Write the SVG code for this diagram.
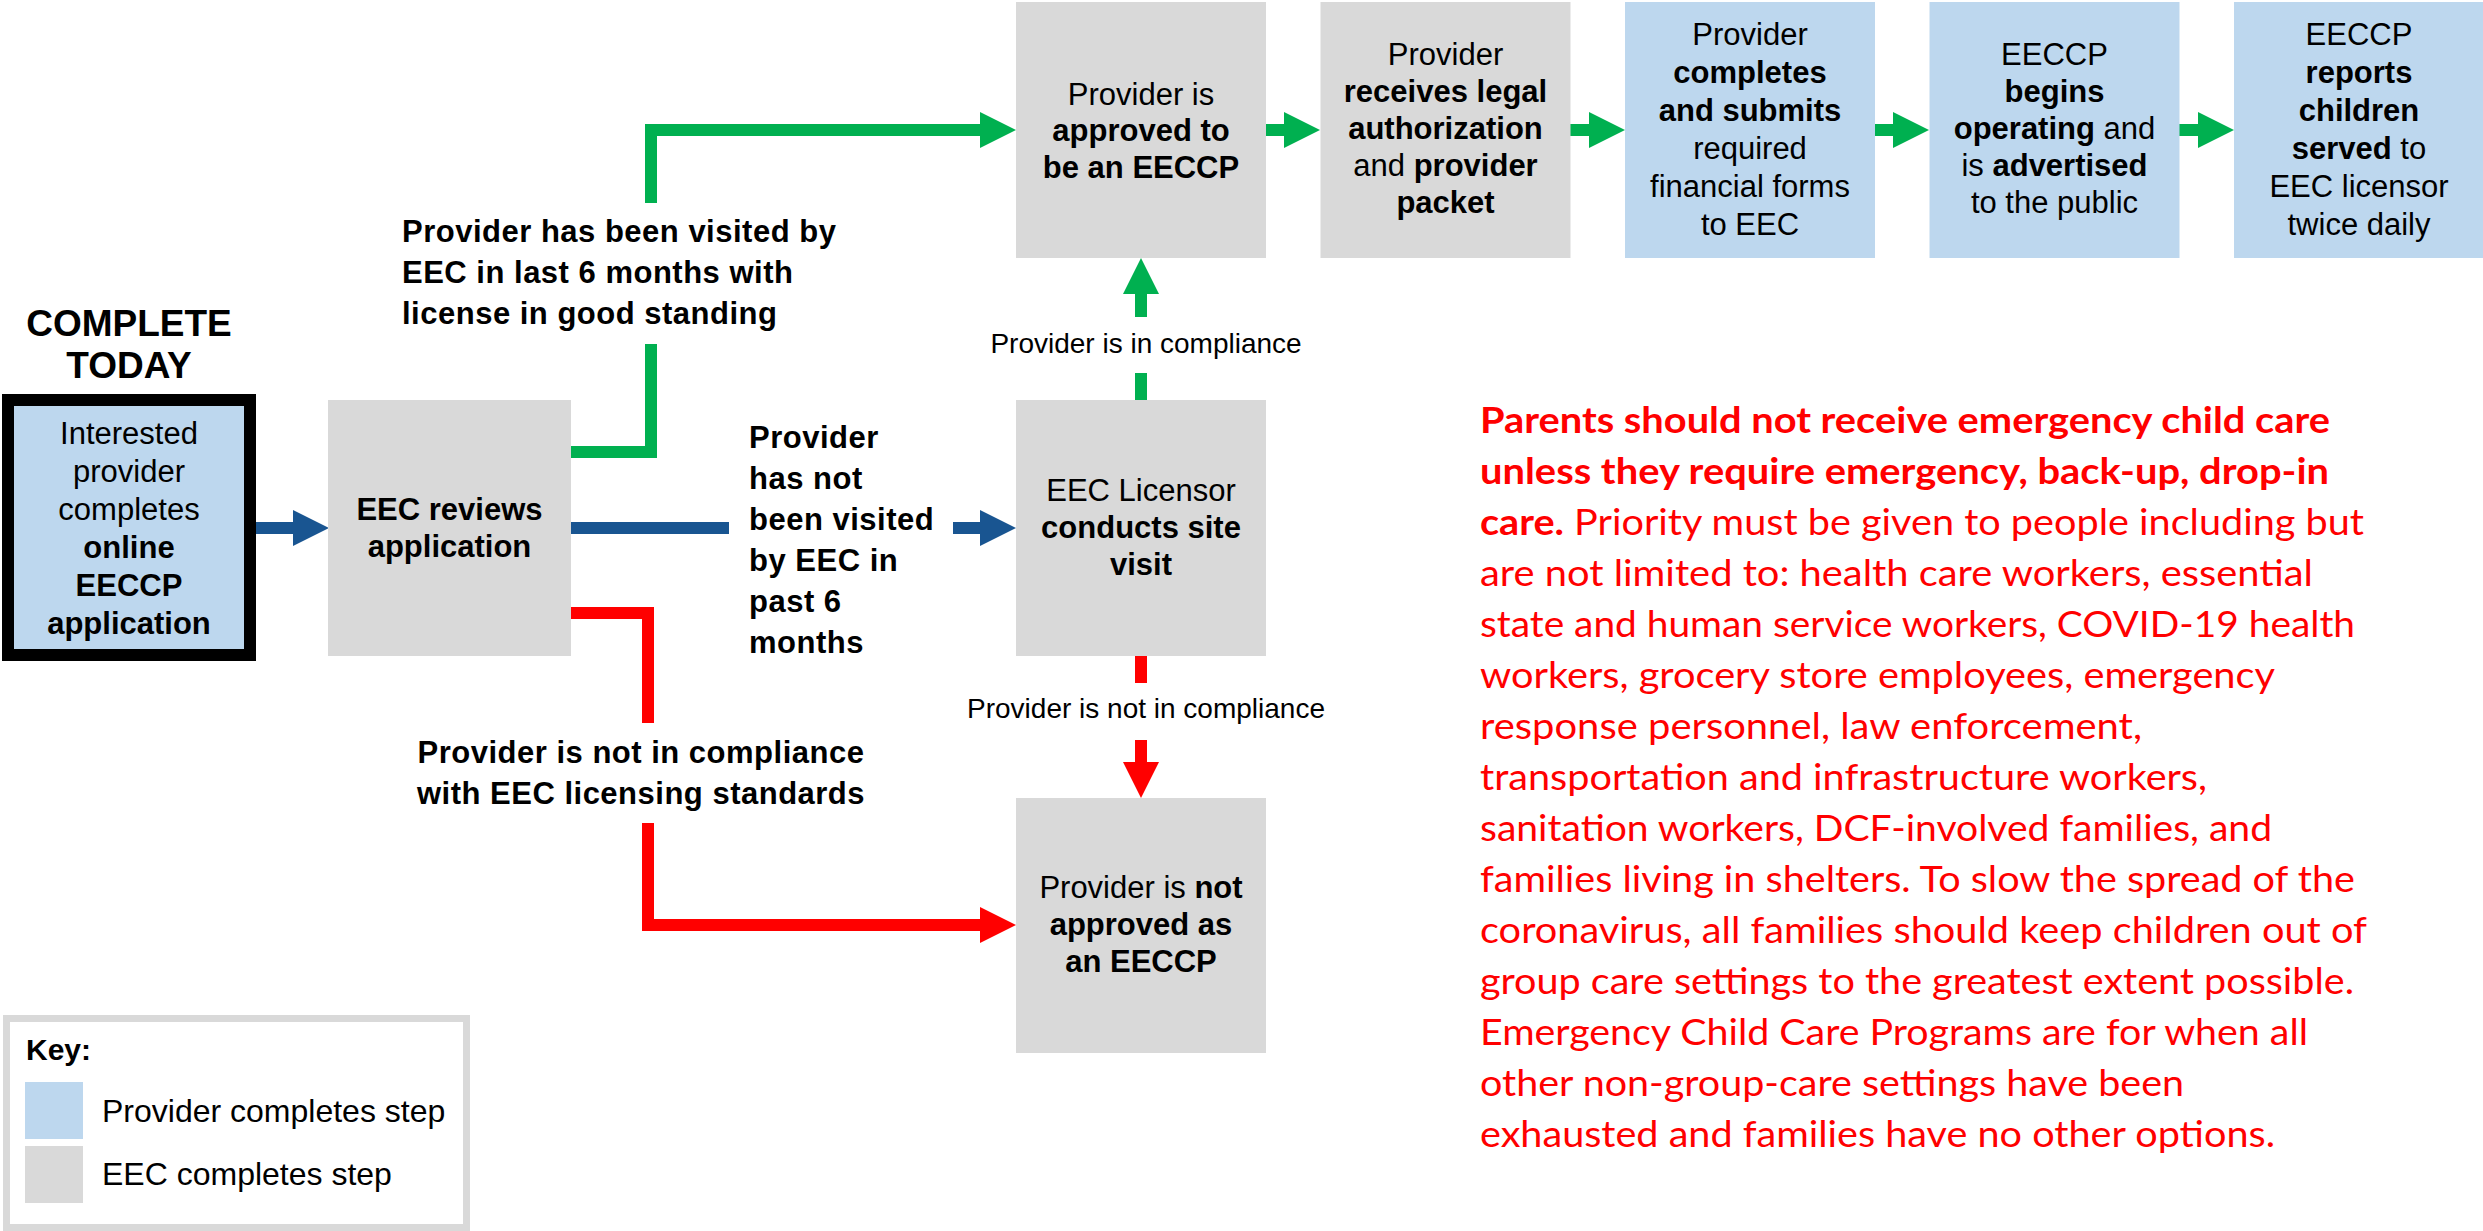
<svg xmlns="http://www.w3.org/2000/svg" width="2483" height="1231" viewBox="0 0 2483 1231">
<style>
.g{fill:#d9d9d9}
.bl{fill:#bdd7ee}
.t{font-family:"Liberation Sans",Arial,Helvetica,sans-serif;font-size:31px;fill:#000;text-anchor:middle}
.b{font-weight:bold}
.lbl{font-family:"Liberation Sans",Arial,Helvetica,sans-serif;font-size:31px;font-weight:bold;letter-spacing:0.5px;fill:#000}
.sm{font-family:"Liberation Sans",Arial,Helvetica,sans-serif;font-size:28px;fill:#000;text-anchor:middle}
.red{font-family:Lato,"Open Sans",sans-serif;font-size:37px;fill:#ff0000}
.cg{fill:none;stroke:#00b050;stroke-width:12}
.cb{fill:none;stroke:#195591;stroke-width:12}
.cr{fill:none;stroke:#ff0000;stroke-width:12}
</style>
<defs>
<marker id="ag" markerWidth="3" markerHeight="3" refX="0" refY="1.5" orient="auto" markerUnits="strokeWidth"><path d="M0,0 L3,1.5 L0,3 z" fill="#00b050"/></marker>
<marker id="ab" markerWidth="3" markerHeight="3" refX="0" refY="1.5" orient="auto" markerUnits="strokeWidth"><path d="M0,0 L3,1.5 L0,3 z" fill="#195591"/></marker>
<marker id="ar" markerWidth="3" markerHeight="3" refX="0" refY="1.5" orient="auto" markerUnits="strokeWidth"><path d="M0,0 L3,1.5 L0,3 z" fill="#ff0000"/></marker>
</defs>
<rect width="2483" height="1231" fill="#fff"/>

<g id="title">
<text class="t b" x="129" y="336" style="font-size:37px">COMPLETE</text>
<text class="t b" x="129" y="378" style="font-size:37px">TODAY</text>
</g>

<g id="connectors">
<path class="cb" d="M256,528 H293" marker-end="url(#ab)"/>
<path class="cg" d="M571,452 H651 V344"/>
<path class="cg" d="M651,203 V130 H980" marker-end="url(#ag)"/>
<path class="cb" d="M571,528 H729"/>
<path class="cb" d="M953,528 H980" marker-end="url(#ab)"/>
<path class="cr" d="M568,613 H648 V723"/>
<path class="cr" d="M648,823 V925 H980" marker-end="url(#ar)"/>
<path class="cg" d="M1141,400 V373"/>
<path class="cg" d="M1141,317 V294" marker-end="url(#ag)"/>
<path class="cr" d="M1141,656 V683"/>
<path class="cr" d="M1141,740 V762" marker-end="url(#ar)"/>
<path class="cg" d="M1266,130 H1284" marker-end="url(#ag)"/>
<path class="cg" d="M1570,130 H1589" marker-end="url(#ag)"/>
<path class="cg" d="M1875,130 H1893" marker-end="url(#ag)"/>
<path class="cg" d="M2179,130 H2198" marker-end="url(#ag)"/>
</g>

<g id="edge-labels">
<text class="lbl" x="402" y="242">Provider has been visited by</text>
<text class="lbl" x="402" y="283">EEC in last 6 months with</text>
<text class="lbl" x="402" y="324">license in good standing</text>
<text class="lbl" x="749" y="448">Provider</text>
<text class="lbl" x="749" y="489">has not</text>
<text class="lbl" x="749" y="530">been visited</text>
<text class="lbl" x="749" y="571">by EEC in</text>
<text class="lbl" x="749" y="612">past 6</text>
<text class="lbl" x="749" y="653">months</text>
<text class="lbl" x="641" y="763" text-anchor="middle">Provider is not in compliance</text>
<text class="lbl" x="641" y="804" text-anchor="middle">with EEC licensing standards</text>
<text class="sm" x="1146" y="353">Provider is in compliance</text>
<text class="sm" x="1146" y="718">Provider is not in compliance</text>
</g>

<g id="n-apply">
<rect x="8" y="400" width="242" height="255" class="bl" stroke="#000" stroke-width="12"/>
<text class="t" x="129" y="444">Interested</text>
<text class="t" x="129" y="482">provider</text>
<text class="t" x="129" y="520">completes</text>
<text class="t b" x="129" y="558">online</text>
<text class="t b" x="129" y="596">EECCP</text>
<text class="t b" x="129" y="634">application</text>
</g>

<g id="n-review">
<rect x="328" y="400" width="243" height="256" class="g"/>
<text class="t b" x="449.5" y="520">EEC reviews</text>
<text class="t b" x="449.5" y="557">application</text>
</g>

<g id="n-approved">
<rect x="1016" y="2" width="250" height="256" class="g"/>
<text class="t" x="1141" y="105">Provider is</text>
<text class="t b" x="1141" y="141">approved to</text>
<text class="t b" x="1141" y="178">be an EECCP</text>
</g>

<g id="n-legal">
<rect x="1320.5" y="2" width="250" height="256" class="g"/>
<text class="t" x="1445.5" y="65">Provider</text>
<text class="t b" x="1445.5" y="102">receives legal</text>
<text class="t b" x="1445.5" y="139">authorization</text>
<text class="t" x="1445.5" y="176">and <tspan class="b">provider</tspan></text>
<text class="t b" x="1445.5" y="213">packet</text>
</g>

<g id="n-forms">
<rect x="1625" y="2" width="250" height="256" class="bl"/>
<text class="t" x="1750" y="45">Provider</text>
<text class="t b" x="1750" y="83">completes</text>
<text class="t b" x="1750" y="121">and submits</text>
<text class="t" x="1750" y="159">required</text>
<text class="t" x="1750" y="197">financial forms</text>
<text class="t" x="1750" y="235">to EEC</text>
</g>

<g id="n-operate">
<rect x="1929.5" y="2" width="250" height="256" class="bl"/>
<text class="t" x="2054.5" y="65">EECCP</text>
<text class="t b" x="2054.5" y="102">begins</text>
<text class="t" x="2054.5" y="139"><tspan class="b">operating</tspan> and</text>
<text class="t" x="2054.5" y="176">is <tspan class="b">advertised</tspan></text>
<text class="t" x="2054.5" y="213">to the public</text>
</g>

<g id="n-report">
<rect x="2234" y="2" width="250" height="256" class="bl"/>
<text class="t" x="2359" y="45">EECCP</text>
<text class="t b" x="2359" y="83">reports</text>
<text class="t b" x="2359" y="121">children</text>
<text class="t" x="2359" y="159"><tspan class="b">served</tspan> to</text>
<text class="t" x="2359" y="197">EEC licensor</text>
<text class="t" x="2359" y="235">twice daily</text>
</g>

<g id="n-visit">
<rect x="1016" y="400" width="250" height="256" class="g"/>
<text class="t" x="1141" y="501">EEC Licensor</text>
<text class="t b" x="1141" y="538">conducts site</text>
<text class="t b" x="1141" y="575">visit</text>
</g>

<g id="n-notapproved">
<rect x="1016" y="798" width="250" height="255" class="g"/>
<text class="t" x="1141" y="898">Provider is <tspan class="b">not</tspan></text>
<text class="t b" x="1141" y="935">approved as</text>
<text class="t b" x="1141" y="972">an EECCP</text>
</g>

<g id="key">
<rect x="6.5" y="1018.5" width="460" height="209" fill="#fff" stroke="#d9d9d9" stroke-width="7"/>
<text x="26" y="1060" font-family="Liberation Sans, Arial, sans-serif" font-size="30" font-weight="bold">Key:</text>
<rect x="25" y="1082" width="58" height="57" class="bl"/>
<rect x="25" y="1146" width="58" height="57" class="g"/>
<text x="102" y="1122" font-family="Liberation Sans, Arial, sans-serif" font-size="32">Provider completes step</text>
<text x="102" y="1185" font-family="Liberation Sans, Arial, sans-serif" font-size="32">EEC completes step</text>
</g>

<g id="note" class="red">
<text x="1480" y="433" textLength="850" lengthAdjust="spacingAndGlyphs" font-weight="bold">Parents should not receive emergency child care</text>
<text x="1480" y="484" textLength="849" lengthAdjust="spacingAndGlyphs" font-weight="bold">unless they require emergency, back-up, drop-in</text>
<text x="1480" y="535" textLength="884" lengthAdjust="spacingAndGlyphs"><tspan font-weight="bold">care.</tspan> Priority must be given to people including but</text>
<text x="1480" y="586" textLength="833" lengthAdjust="spacingAndGlyphs">are not limited to: health care workers, essential</text>
<text x="1480" y="637" textLength="875" lengthAdjust="spacingAndGlyphs">state and human service workers, COVID-19 health</text>
<text x="1480" y="688" textLength="795" lengthAdjust="spacingAndGlyphs">workers, grocery store employees, emergency</text>
<text x="1480" y="739" textLength="662" lengthAdjust="spacingAndGlyphs">response personnel, law enforcement,</text>
<text x="1480" y="790" textLength="727" lengthAdjust="spacingAndGlyphs">transportation and infrastructure workers,</text>
<text x="1480" y="841" textLength="792" lengthAdjust="spacingAndGlyphs">sanitation workers, DCF-involved families, and</text>
<text x="1480" y="892" textLength="875" lengthAdjust="spacingAndGlyphs">families living in shelters. To slow the spread of the</text>
<text x="1480" y="943" textLength="887" lengthAdjust="spacingAndGlyphs">coronavirus, all families should keep children out of</text>
<text x="1480" y="994" textLength="874" lengthAdjust="spacingAndGlyphs">group care settings to the greatest extent possible.</text>
<text x="1480" y="1045" textLength="828" lengthAdjust="spacingAndGlyphs">Emergency Child Care Programs are for when all</text>
<text x="1480" y="1096" textLength="704" lengthAdjust="spacingAndGlyphs">other non-group-care settings have been</text>
<text x="1480" y="1147" textLength="795" lengthAdjust="spacingAndGlyphs">exhausted and families have no other options.</text>
</g>
</svg>
